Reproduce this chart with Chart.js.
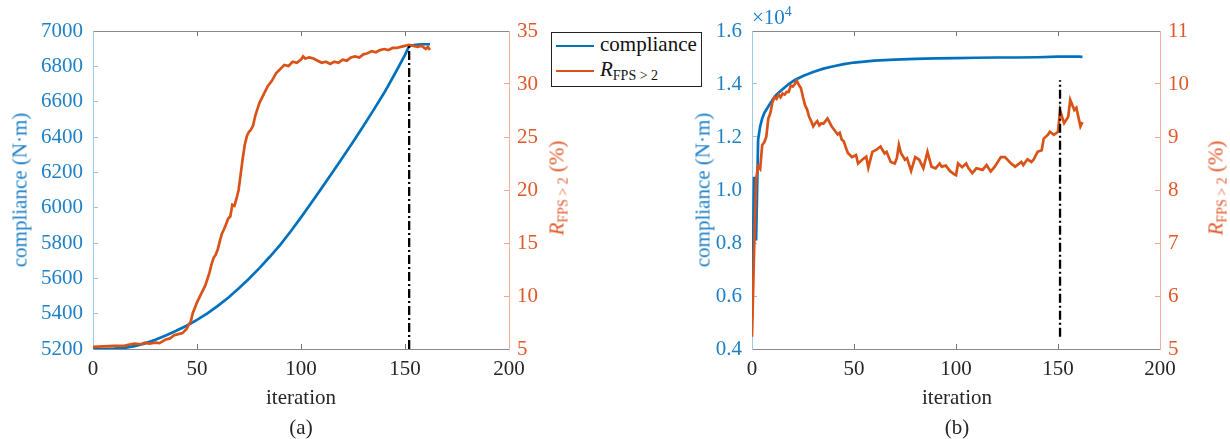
<!DOCTYPE html>
<html>
<head>
<meta charset="utf-8">
<script src="https://cdn.jsdelivr.net/npm/chart.js@4.4.0/dist/chart.umd.min.js"></script>
<style>
body { margin: 0; background: #fff; width: 1230px; height: 439px; overflow: hidden; position: relative; font-family: "Liberation Serif", "Times New Roman", serif; }
canvas { position: absolute; top: 0; }
.t { position: absolute; font-size: 21px; white-space: nowrap; color: #262626; }
.rot { transform: translate(-50%, -50%) rotate(-90deg); }
.ctr { transform: translate(-50%, -50%); }
.blue { color: #1f80c8; }
.orange { color: #e0582a; }
sub { font-size: 14px; vertical-align: -4px; }
#legend { position: absolute; left: 551px; top: 32px; width: 149px; height: 53px; border: 1.5px solid #222; background: #fff; }
#legend .sw { position: absolute; left: 4px; width: 38px; height: 2px; }
#legend .tx { position: absolute; left: 48px; font-size: 21px; color: #111; white-space: nowrap; }
</style>
</head>
<body>
<canvas id="chartA" width="600" height="439" style="left:0"></canvas>
<canvas id="chartB" width="610" height="439" style="left:620px"></canvas>

<div class="t rot blue" style="left:20px;top:190px">compliance (N·m)</div>
<div class="t rot orange" style="left:558px;top:188px"><i>R</i><sub>FPS &gt; 2</sub> (%)</div>
<div class="t ctr" style="left:301px;top:397px">iteration</div>
<div class="t ctr" style="left:301px;top:427px">(a)</div>

<div class="t rot blue" style="left:703px;top:190px">compliance (N·m)</div>
<div class="t rot orange" style="left:1217px;top:188px"><i>R</i><sub>FPS &gt; 2</sub> (%)</div>
<div class="t blue" style="left:752px;top:4px">×10<sup style="font-size:14px">4</sup></div>
<div class="t ctr" style="left:957px;top:397px">iteration</div>
<div class="t ctr" style="left:957px;top:427px">(b)</div>

<div id="legend">
  <div class="sw" style="top:12px;background:#0072BD"></div>
  <div class="tx" style="top:-1px">compliance</div>
  <div class="sw" style="top:37px;background:#D95319"></div>
  <div class="tx" style="top:24px"><i>R</i><sub>FPS &gt; 2</sub></div>
</div>

<script>
// (a) compliance
const aCompIter = [0, 5, 10, 15, 20, 25, 30, 35, 40, 45, 50, 55, 60, 65, 70, 75, 80, 85, 90, 95, 100, 105, 110, 115, 120, 125, 130, 135, 140, 145, 150, 152, 155, 158, 162];
const aCompVal = [5200, 5200, 5202, 5206, 5216, 5232, 5252, 5276, 5303, 5332, 5365, 5402, 5444, 5490, 5542, 5598, 5658, 5722, 5790, 5865, 5945, 6028, 6112, 6198, 6284, 6372, 6462, 6555, 6650, 6755, 6865, 6915, 6922, 6925, 6925];

// (a) R_FPS>2
const aRIter = [0, 5, 10, 15, 17, 20, 23, 25, 27, 30, 32, 35, 37, 39, 41, 43, 45, 46, 47, 48, 49, 50, 52, 54, 56, 57, 58, 59, 60, 61, 62, 63, 64, 65, 66, 67, 68, 69, 70, 71, 72, 73, 74, 75, 76, 77, 78, 79, 80, 82, 84, 86, 88, 90, 92, 94, 96, 98, 100, 101, 102, 104, 106, 108, 110, 112, 114, 116, 118, 120, 122, 124, 126, 128, 130, 132, 134, 136, 138, 140, 142, 144, 146, 148, 150, 152, 154, 156, 158, 160, 161, 162];
const aRVal = [5.2, 5.25, 5.3, 5.3, 5.4, 5.5, 5.45, 5.6, 5.5, 5.6, 5.55, 5.9, 6.0, 6.3, 6.4, 6.5, 6.9, 7.3, 7.6, 8.4, 8.9, 9.4, 10.2, 11.0, 12.2, 13.0, 13.6, 13.9, 14.4, 15.2, 15.9, 16.3, 16.8, 17.3, 17.5, 18.6, 18.5, 19.2, 20.0, 21.5, 23.0, 24.3, 25.1, 25.5, 25.7, 26.1, 27.0, 27.6, 28.2, 29.0, 29.8, 30.3, 31.0, 31.4, 31.8, 31.7, 32.1, 32.0, 32.3, 32.6, 32.4, 32.5, 32.4, 32.2, 32.0, 32.1, 31.9, 32.1, 32.0, 32.3, 32.2, 32.5, 32.6, 32.5, 32.8, 32.9, 33.1, 33.0, 33.2, 33.3, 33.2, 33.4, 33.4, 33.5, 33.6, 33.7, 33.6, 33.5, 33.6, 33.3, 33.5, 33.2];

// (b) compliance (x10^4)
const bCompIter = [0, 1, 2, 3, 4, 5, 6, 8, 10, 12, 15, 18, 21, 25, 30, 35, 40, 45, 50, 60, 70, 80, 90, 100, 110, 120, 130, 140, 150, 160, 162];
const bCompVal = [0.52, 1.05, 0.81, 1.19, 1.24, 1.27, 1.29, 1.315, 1.34, 1.36, 1.38, 1.40, 1.415, 1.43, 1.445, 1.458, 1.467, 1.475, 1.481, 1.488, 1.492, 1.495, 1.497, 1.498, 1.499, 1.5, 1.5, 1.501, 1.503, 1.503, 1.502];

// (b) R_FPS>2
const bRIter = [0, 1, 2, 3, 4, 5, 6, 7, 8, 9, 10, 11, 12, 13, 14, 15, 16, 17, 18, 19, 20, 21, 22, 23, 24, 25, 26, 27, 28, 29, 30, 31, 32, 33, 34, 35, 36, 37, 38, 39, 40, 41, 42, 43, 44, 45, 46, 47, 48, 49, 51, 52, 54, 56, 57, 59, 61, 63, 65, 66, 68, 70, 71, 72, 73, 75, 76, 78, 80, 82, 84, 86, 88, 90, 92, 93, 95, 97, 99, 100, 101, 103, 105, 106, 108, 110, 113, 115, 117, 119, 122, 124, 127, 129, 132, 133, 135, 137, 138, 140, 142, 143, 145, 146, 148, 150, 151, 153, 155, 156, 158, 159, 161, 162];
const bRVal = [5.23, 6.8, 8.2, 8.45, 8.4, 8.85, 8.9, 9.0, 9.35, 9.45, 9.65, 9.75, 9.72, 9.8, 9.75, 9.82, 9.8, 9.85, 9.85, 9.97, 9.95, 10.0, 10.06, 9.98, 9.92, 9.75, 9.6, 9.52, 9.38, 9.3, 9.2, 9.26, 9.3, 9.22, 9.26, 9.25, 9.3, 9.35, 9.28, 9.2, 9.15, 9.1, 9.05, 9.08, 8.95, 8.92, 8.8, 8.7, 8.66, 8.62, 8.66, 8.5, 8.57, 8.63, 8.42, 8.72, 8.76, 8.82, 8.69, 8.72, 8.53, 8.5, 8.6, 8.85, 8.7, 8.57, 8.6, 8.36, 8.62, 8.57, 8.41, 8.72, 8.44, 8.41, 8.5, 8.44, 8.46, 8.36, 8.3, 8.28, 8.5, 8.43, 8.5, 8.42, 8.32, 8.41, 8.38, 8.47, 8.35, 8.44, 8.62, 8.62, 8.5, 8.44, 8.53, 8.47, 8.58, 8.53, 8.57, 8.72, 8.75, 8.97, 9.04, 9.1, 9.04, 9.1, 9.5, 9.26, 9.38, 9.7, 9.51, 9.55, 9.2, 9.28];

// dash-dot markers
const aMarkIter = [152, 152];
const aMarkVal = [5, 33.7];
const bMarkIter = [151, 151];
const bMarkVal = [5.23, 10.07];

const BLUE = '#0072BD';
const ORANGE = '#D95319';
const SERIF = "'Liberation Serif', 'Times New Roman', serif";
const tickFont = { family: SERIF, size: 21 };

Chart.defaults.font.family = SERIF;

function pts(xs, ys) {
    return xs.map((x, i) => ({ x: x, y: ys[i] }));
}

function makeChart(id, d) {
    const lineDs = (data, axis, color, order, w) => ({
        data: data, yAxisID: axis, borderColor: color, borderWidth: w,
        pointRadius: 0, tension: 0, fill: false, order: order
    });
    return new Chart(document.getElementById(id), {
        type: 'line',
        data: {
            datasets: [
                Object.assign(lineDs(pts(d.markX, d.markY), 'yR', '#000', 0, 2.3), { borderDash: [9, 3, 2, 3] }),
                lineDs(pts(d.rX, d.rY), 'yR', ORANGE, 1, 2.7),
                lineDs(pts(d.cX, d.cY), 'yL', BLUE, 2, 2.7)
            ]
        },
        options: {
            responsive: false,
            animation: false,
            devicePixelRatio: 1,
            layout: { padding: { top: 31, left: 0, right: 0, bottom: 0 } },
            plugins: { legend: { display: false }, tooltip: { enabled: false } },
            scales: {
                x: {
                    type: 'linear', position: 'bottom', min: 0, max: 200,
                    ticks: { stepSize: 50, font: tickFont, color: '#262626', padding: 13, maxRotation: 0 },
                    grid: { drawOnChartArea: false, tickLength: -5, color: '#777' },
                    border: { color: '#8a8a8a', width: 1 },
                    afterFit: s => { s.height = 90; }
                },
                xTop: {
                    type: 'linear', position: 'top', min: 0, max: 200,
                    ticks: { stepSize: 50, display: false },
                    grid: { drawOnChartArea: false, tickLength: -5, color: '#777' },
                    border: { color: '#8a8a8a', width: 1 },
                    afterFit: s => { s.height = 0; }
                },
                yL: {
                    type: 'linear', position: 'left', min: d.lMin, max: d.lMax,
                    ticks: { stepSize: d.lStep, font: tickFont, color: '#1f80c8', padding: 15, callback: d.lFmt },
                    grid: { drawOnChartArea: false, tickLength: -5, color: '#8fc3ea' },
                    border: { color: '#9ccbeb', width: 1 },
                    afterFit: s => { s.width = d.lW; }
                },
                yR: {
                    type: 'linear', position: 'right', min: d.rMin, max: d.rMax,
                    ticks: { stepSize: d.rStep, font: tickFont, color: '#e0582a', padding: 13 },
                    grid: { drawOnChartArea: false, tickLength: -5, color: '#f0a98a' },
                    border: { color: '#f2b196', width: 1 },
                    afterFit: s => { s.width = d.rW; }
                }
            }
        }
    });
}

function build() {
    makeChart('chartA', {
        cX: aCompIter, cY: aCompVal, rX: aRIter, rY: aRVal, markX: aMarkIter, markY: aMarkVal,
        lMin: 5200, lMax: 7000, lStep: 200, lFmt: v => String(v), lW: 93,
        rMin: 5, rMax: 35, rStep: 5, rW: 91
    });
    makeChart('chartB', {
        cX: bCompIter, cY: bCompVal, rX: bRIter, rY: bRVal, markX: bMarkIter, markY: bMarkVal,
        lMin: 0.4, lMax: 1.6, lStep: 0.2, lFmt: v => v.toFixed(1), lW: 132,
        rMin: 5, rMax: 11, rStep: 1, rW: 70
    });
}

document.fonts.load("21px 'Liberation Serif'").then(build, build);
</script>
</body>
</html>
